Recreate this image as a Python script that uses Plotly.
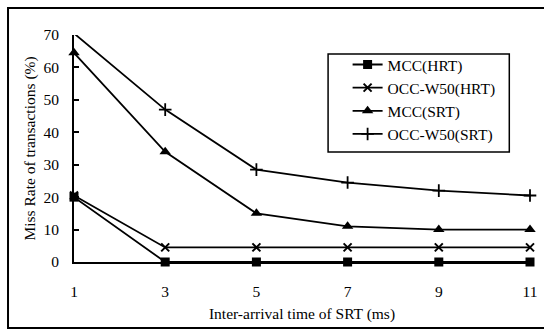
import plotly.graph_objects as go

# Inter-arrival time of SRT transactions (ms)
inter_arrival = [1, 3, 5, 7, 9, 11]
x_ticks = [1, 3, 5, 7, 9, 11]
y_ticks = [0, 10, 20, 30, 40, 50, 60, 70]

# Miss rate (%) per protocol / transaction class
mcc_hrt = [20, 0, 0, 0, 0, 0]
occ_w50_hrt = [20.5, 4.5, 4.5, 4.5, 4.5, 4.5]
mcc_srt = [64.5, 34, 15, 11, 10, 10]
occ_w50_srt = [70.5, 47, 28.5, 24.5, 22, 20.5]

FONT = "Times New Roman, Liberation Serif, serif"
FS = 15.5

series = [
    ("MCC(HRT)", mcc_hrt, dict(symbol="square", size=9, color="black")),
    ("OCC-W50(HRT)", occ_w50_hrt,
     dict(symbol="x-thin-open", size=8, color="black", line=dict(width=2, color="black"))),
    ("MCC(SRT)", mcc_srt, dict(symbol="triangle-up", size=10, color="black")),
    ("OCC-W50(SRT)", occ_w50_srt,
     dict(symbol="cross-thin-open", size=9, color="black", line=dict(width=1.8, color="black"))),
]

fig = go.Figure()
for i, (name, vals, marker) in enumerate(series):
    fig.add_trace(go.Scatter(
        x=inter_arrival, y=vals, name=name, mode="lines+markers",
        line=dict(color="black", width=1.8), marker=marker,
        cliponaxis=False, legendgroup=f"g{i}",
    ))

fig.update_layout(
    width=544, height=331,
    margin=dict(l=74, r=7, t=35, b=69),
    paper_bgcolor="white", plot_bgcolor="white",
    font=dict(family=FONT, size=FS, color="black"),
    showlegend=True,
    legend=dict(
        x=0.600, y=0.943, xanchor="left", yanchor="top",
        borderwidth=0, bgcolor="rgba(0,0,0,0)",
        traceorder="grouped", tracegroupgap=0,
        font=dict(family=FONT, size=FS, color="black"),
    ),
    xaxis=dict(
        range=[1, 11], tickvals=x_ticks, ticktext=[str(v) for v in x_ticks],
        showgrid=False, zeroline=False, showline=True, linecolor="black", linewidth=2,
        ticks="", ticklabelstandoff=14, ticklabeloverflow="allow",
        title=dict(text="Inter-arrival time of SRT (ms)", standoff=10,
                   font=dict(family=FONT, size=FS)),
    ),
    yaxis=dict(
        range=[0, 70], tickvals=y_ticks,
        showgrid=False, zeroline=False, showline=True, linecolor="black", linewidth=2,
        ticks="inside", ticklen=5, tickwidth=1.5, tickcolor="black",
        ticklabelstandoff=10,
        title=dict(text="Miss Rate of transactions (%)", standoff=4,
                   font=dict(family=FONT, size=FS)),
    ),
    shapes=[
        # frame around the whole figure
        dict(type="rect", xref="paper", yref="paper",
             x0=-0.1447, x1=1.05, y0=-0.2907, y1=1.119,
             line=dict(color="black", width=2), fillcolor="rgba(0,0,0,0)"),
        # legend box
        dict(type="rect", xref="paper", yref="paper",
             x0=0.5572, x1=0.9546, y0=0.4846, y1=0.9163,
             line=dict(color="black", width=1.5), fillcolor="white"),
    ],
)

fig.write_html("out.html")
